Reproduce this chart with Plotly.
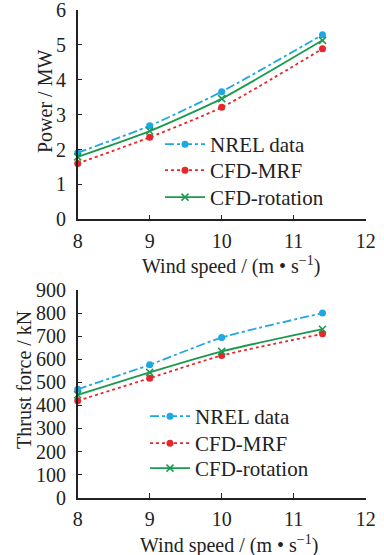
import plotly.graph_objects as go

wind = [8, 9, 10, 11.4]
power_nrel = [1.91, 2.68, 3.66, 5.29]
power_mrf = [1.60, 2.35, 3.21, 4.89]
power_rot = [1.79, 2.53, 3.46, 5.13]
thrust_nrel = [470, 576, 694, 800]
thrust_mrf = [420, 518, 616, 710]
thrust_rot = [446, 543, 634, 730]

names = ["NREL data", "CFD-MRF", "CFD-rotation"]
colors = ["#1EA8E0", "#E8262A", "#1A9A4E"]
dashes = ["dashdot", "dot", "solid"]
symbols = ["circle", "circle", "x-thin"]

FONT = "Liberation Serif, Times New Roman, serif"
TXT = "#222222"
W, H = 384, 555

fig = go.Figure()
series_top = [power_nrel, power_mrf, power_rot]
series_bot = [thrust_nrel, thrust_mrf, thrust_rot]

# legend entry positions (pixels from top-left): x of legend box, top of entry
leg_top_x, leg_top_y = 160, [124, 150, 177]
leg_bot_x, leg_bot_y = 145, [396, 423, 448]

legend_layout = {}


def add_series(ys, xa, ya, start, lx, lys):
    for i in range(3):
        key = "legend" if start + i == 1 else f"legend{start + i}"
        fig.add_trace(go.Scatter(
            x=wind, y=ys[i], name=names[i], mode="lines+markers",
            line=dict(color=colors[i], dash=dashes[i], width=1.8, shape="spline", smoothing=0.6),
            marker=dict(symbol=symbols[i], size=7, color=colors[i],
                        line=dict(color=colors[i], width=1.5 if symbols[i] != "circle" else 0)),
            xaxis=xa, yaxis=ya, legend=key, showlegend=True, cliponaxis=False))
        legend_layout[key] = dict(
            x=lx / W, y=1 - lys[i] / H, xanchor="left", yanchor="top",
            bgcolor="rgba(0,0,0,0)", font=dict(family=FONT, size=21, color=TXT),
            itemwidth=40, visible=True)


add_series(series_top, "x", "y", 1, leg_top_x, leg_top_y)
add_series(series_bot, "x2", "y2", 4, leg_bot_x, leg_bot_y)

xdom = [77.7 / W, 365.7 / W]
axis_common = dict(
    showline=True, linecolor=TXT, linewidth=1.5, ticks="inside", ticklen=5,
    tickcolor=TXT, tickwidth=1.2, showgrid=False, zeroline=False, automargin=False,
    ticklabeloverflow="allow",
    tickfont=dict(family=FONT, size=20, color=TXT),
)
xtitle = "Wind speed / (m • s<sup>−1</sup>)"

fig.update_layout(
    width=W, height=H, margin=dict(l=0, r=0, t=0, b=0),
    paper_bgcolor="white", plot_bgcolor="white", showlegend=True,
    font=dict(family=FONT, size=20, color=TXT),
    xaxis=dict(domain=xdom, range=[8, 12], dtick=1, anchor="y", ticklabelstandoff=3,
               **axis_common),
    yaxis=dict(domain=[1 - 219.3 / H, 1 - 10 / H], range=[0, 6], dtick=1, anchor="x",
               ticklabelstandoff=6, **axis_common),
    xaxis2=dict(domain=xdom, range=[8, 12], dtick=1, anchor="y2", ticklabelstandoff=3,
                **axis_common),
    yaxis2=dict(domain=[1 - 497.7 / H, 1 - 290 / H], range=[0, 900], dtick=100, anchor="x2",
                ticklabelstandoff=6, **axis_common),
    **legend_layout,
)

titles = [
    (xtitle, 231, 265, 0),
    (xtitle, 229, 544, 0),
    ("Power / MW", 45, 102, -90),
    ("Thrust force / kN", 24, 380, -90),
]
for text, px, py, ang in titles:
    fig.add_annotation(text=text, x=px / W, y=1 - py / H, xref="paper", yref="paper",
                       xanchor="center", yanchor="middle", showarrow=False, textangle=ang,
                       font=dict(family=FONT, size=20, color=TXT))

fig.write_html(
    "out.html",
    config={"displayModeBar": False},
    post_script="document.body.style.margin='0';document.body.style.overflow='hidden';",
)
